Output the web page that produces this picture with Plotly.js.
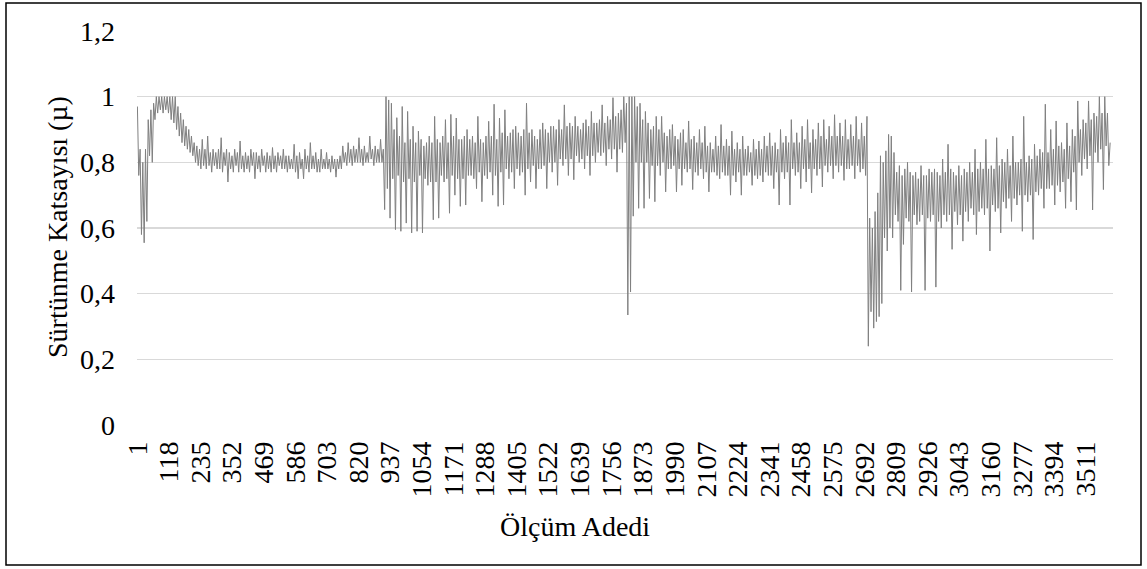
<!DOCTYPE html>
<html>
<head>
<meta charset="utf-8">
<script src="https://cdn.plot.ly/plotly-3.0.1.min.js"></script>
<style>
html,body{margin:0;padding:0;background:#fff;}
#chart{width:1147px;height:569px;}
</style>
</head>
<body>
<div id="chart"></div>
<script>
const adimOlcum = 5;
const mu = [
  0.97, 0.76, 0.84, 0.58, 0.80, 0.555, 0.84, 0.62, 0.93, 0.82, 0.96, 0.80, 0.98, 0.93, 1.0, 0.95, 1.0, 0.96, 1.0, 0.95,
  1.0, 0.96, 1.0, 0.95, 1.0, 0.93, 1.0, 0.92, 1.0, 0.90, 0.97, 0.88, 0.95, 0.86, 0.93, 0.85, 0.91, 0.84, 0.90, 0.83,
  0.88, 0.82, 0.86, 0.80, 0.85, 0.79, 0.84, 0.78, 0.87, 0.79, 0.84, 0.78, 0.88, 0.79, 0.83, 0.77, 0.84, 0.79, 0.83, 0.78,
  0.84, 0.78, 0.875, 0.77, 0.83, 0.79, 0.84, 0.74, 0.83, 0.78, 0.82, 0.77, 0.84, 0.79, 0.83, 0.77, 0.865, 0.78, 0.82, 0.77,
  0.83, 0.78, 0.82, 0.77, 0.84, 0.79, 0.83, 0.75, 0.83, 0.78, 0.82, 0.77, 0.84, 0.79, 0.82, 0.77, 0.83, 0.78, 0.82, 0.77,
  0.845, 0.78, 0.82, 0.77, 0.83, 0.79, 0.82, 0.78, 0.84, 0.78, 0.82, 0.77, 0.82, 0.78, 0.81, 0.78, 0.855, 0.77, 0.82, 0.75,
  0.83, 0.78, 0.81, 0.75, 0.84, 0.78, 0.82, 0.77, 0.86, 0.78, 0.82, 0.78, 0.83, 0.77, 0.81, 0.77, 0.84, 0.78, 0.81, 0.78,
  0.83, 0.78, 0.81, 0.77, 0.82, 0.78, 0.81, 0.755, 0.81, 0.78, 0.82, 0.78, 0.85, 0.80, 0.83, 0.79, 0.86, 0.80, 0.84, 0.79,
  0.85, 0.80, 0.84, 0.80, 0.875, 0.80, 0.84, 0.79, 0.85, 0.80, 0.83, 0.80, 0.88, 0.81, 0.84, 0.79, 0.85, 0.80, 0.84, 0.80,
  0.87, 0.80, 0.84, 0.656, 1.0, 0.72, 0.99, 0.63, 0.98, 0.75, 0.90, 0.595, 0.936, 0.76, 0.88, 0.59, 0.97, 0.74, 0.86, 0.615,
  0.955, 0.75, 0.87, 0.585, 0.91, 0.74, 0.86, 0.59, 0.895, 0.76, 0.87, 0.585, 0.85, 0.75, 0.86, 0.73, 0.88, 0.74, 0.86, 0.625,
  0.94, 0.74, 0.87, 0.63, 0.86, 0.76, 0.88, 0.74, 0.93, 0.75, 0.86, 0.645, 0.946, 0.76, 0.88, 0.70, 0.935, 0.75, 0.87, 0.666,
  0.87, 0.75, 0.88, 0.67, 0.90, 0.76, 0.87, 0.76, 0.88, 0.75, 0.86, 0.72, 0.94, 0.77, 0.87, 0.68, 0.86, 0.76, 0.88, 0.75,
  0.925, 0.77, 0.88, 0.70, 0.977, 0.76, 0.87, 0.666, 0.935, 0.77, 0.89, 0.67, 0.96, 0.78, 0.88, 0.75, 0.89, 0.77, 0.90, 0.72,
  0.91, 0.78, 0.89, 0.76, 0.88, 0.77, 0.90, 0.70, 0.98, 0.78, 0.89, 0.74, 0.90, 0.79, 0.88, 0.72, 0.87, 0.78, 0.90, 0.78,
  0.92, 0.79, 0.90, 0.72, 0.89, 0.80, 0.91, 0.77, 0.91, 0.80, 0.90, 0.73, 0.93, 0.81, 0.90, 0.79, 0.975, 0.81, 0.91, 0.76,
  0.92, 0.81, 0.91, 0.747, 0.94, 0.82, 0.91, 0.80, 0.90, 0.81, 0.92, 0.78, 0.93, 0.82, 0.91, 0.76, 0.955, 0.82, 0.92, 0.80,
  0.92, 0.83, 0.93, 0.82, 0.975, 0.83, 0.92, 0.79, 0.94, 0.84, 0.93, 0.81, 0.997, 0.84, 0.94, 0.77, 0.95, 0.84, 0.96, 0.83,
  1.0, 0.86, 0.98, 0.335, 1.0, 0.405, 1.0, 0.636, 1.0, 0.80, 0.97, 0.66, 0.98, 0.80, 0.93, 0.66, 0.955, 0.80, 0.92, 0.69,
  0.90, 0.79, 0.91, 0.68, 0.94, 0.79, 0.90, 0.76, 0.94, 0.80, 0.89, 0.71, 0.88, 0.78, 0.90, 0.78, 0.915, 0.79, 0.88, 0.71,
  0.87, 0.78, 0.89, 0.73, 0.90, 0.78, 0.86, 0.77, 0.926, 0.78, 0.87, 0.717, 0.88, 0.77, 0.86, 0.76, 0.90, 0.78, 0.86, 0.75,
  0.91, 0.77, 0.85, 0.71, 0.86, 0.77, 0.84, 0.77, 0.88, 0.76, 0.85, 0.75, 0.915, 0.77, 0.85, 0.76, 0.87, 0.76, 0.85, 0.70,
  0.895, 0.76, 0.84, 0.74, 0.86, 0.77, 0.84, 0.70, 0.88, 0.76, 0.84, 0.76, 0.85, 0.77, 0.83, 0.73, 0.87, 0.76, 0.84, 0.75,
  0.865, 0.76, 0.84, 0.74, 0.88, 0.77, 0.85, 0.76, 0.89, 0.76, 0.85, 0.72, 0.86, 0.77, 0.84, 0.67, 0.90, 0.77, 0.86, 0.75,
  0.88, 0.77, 0.86, 0.67, 0.93, 0.78, 0.86, 0.76, 0.89, 0.77, 0.86, 0.72, 0.91, 0.78, 0.87, 0.74, 0.93, 0.78, 0.86, 0.707,
  0.90, 0.78, 0.87, 0.76, 0.92, 0.78, 0.88, 0.725, 0.93, 0.79, 0.87, 0.77, 0.91, 0.79, 0.88, 0.75, 0.945, 0.79, 0.88, 0.77,
  0.92, 0.79, 0.88, 0.745, 0.93, 0.78, 0.87, 0.78, 0.915, 0.79, 0.88, 0.75, 0.94, 0.79, 0.87, 0.77, 0.92, 0.78, 0.88, 0.76,
  0.94, 0.24, 0.63, 0.345, 0.60, 0.295, 0.65, 0.315, 0.707, 0.33, 0.82, 0.37, 0.80, 0.57, 0.835, 0.53, 0.885, 0.60, 0.88, 0.57,
  0.83, 0.64, 0.77, 0.62, 0.79, 0.41, 0.76, 0.55, 0.78, 0.63, 0.80, 0.62, 0.77, 0.405, 0.76, 0.64, 0.77, 0.61, 0.75, 0.62,
  0.79, 0.64, 0.76, 0.41, 0.76, 0.63, 0.78, 0.62, 0.77, 0.64, 0.78, 0.42, 0.77, 0.62, 0.76, 0.60, 0.81, 0.64, 0.77, 0.62,
  0.855, 0.64, 0.78, 0.535, 0.77, 0.65, 0.76, 0.61, 0.79, 0.64, 0.76, 0.56, 0.78, 0.65, 0.77, 0.62, 0.80, 0.66, 0.77, 0.64,
  0.84, 0.58, 0.78, 0.65, 0.80, 0.66, 0.78, 0.64, 0.87, 0.66, 0.78, 0.53, 0.79, 0.67, 0.78, 0.65, 0.875, 0.66, 0.79, 0.585,
  0.81, 0.68, 0.80, 0.66, 0.84, 0.69, 0.79, 0.62, 0.88, 0.69, 0.80, 0.67, 0.80, 0.70, 0.81, 0.59, 0.94, 0.70, 0.80, 0.68,
  0.82, 0.70, 0.81, 0.565, 0.855, 0.71, 0.82, 0.70, 0.84, 0.72, 0.83, 0.66, 0.977, 0.72, 0.83, 0.72, 0.90, 0.73, 0.84, 0.67,
  0.926, 0.73, 0.85, 0.71, 0.86, 0.74, 0.84, 0.66, 0.92, 0.75, 0.85, 0.68, 0.90, 0.77, 0.88, 0.655, 0.987, 0.80, 0.90, 0.76,
  0.93, 0.81, 0.92, 0.78, 0.987, 0.82, 0.93, 0.655, 0.95, 0.83, 0.94, 0.80, 1.0, 0.84, 0.95, 0.717, 1.0, 0.85, 0.95, 0.79,
  0.86
];
const olcum = mu.map((_, k) => 1 + k * adimOlcum);

const xTickVals = [1,118,235,352,469,586,703,820,937,1054,1171,1288,1405,1522,1639,1756,1873,1990,2107,2224,2341,2458,2575,2692,2809,2926,3043,3160,3277,3394,3511];
const xTickText = xTickVals.map(String);
const yTickVals = [0,0.2,0.4,0.6,0.8,1,1.2];
const yTickText = ['0','0,2','0,4','0,6','0,8','1','1,2'];

const serif = 'Liberation Serif';
const fs = 28;

const L = 137, R = 1113, T = 31, B = 425;
const pw = R - L, ph = B - T;
function px2x(p){ return (p - L) / pw; }
function py2y(p){ return (B - p) / ph; }

Plotly.newPlot('chart', [{
  x: olcum,
  y: mu,
  type: 'scatter',
  mode: 'lines',
  line: {color: '#808080', width: 1},
  hoverinfo: 'skip'
}], {
  width: 1147, height: 569,
  margin: {l: L, r: 1147 - R, t: T, b: 569 - B},
  paper_bgcolor: '#ffffff',
  plot_bgcolor: '#ffffff',
  showlegend: false,
  xaxis: {
    range: [-0.5, 3611.5],
    tickmode: 'array', tickvals: xTickVals, ticktext: xTickText,
    tickangle: -90,
    showgrid: false, zeroline: false, showline: false, ticks: '',
    ticklabelstandoff: 10,
    tickfont: {family: serif, size: fs, color: '#000'},
    fixedrange: true
  },
  yaxis: {
    range: [0, 1.2],
    tickmode: 'array', tickvals: yTickVals, ticktext: yTickText,
    showgrid: true, gridcolor: '#d9d9d9', gridwidth: 1.3,
    zeroline: false, showline: false, ticks: '',
    ticklabelstandoff: 21,
    tickfont: {family: serif, size: fs, color: '#000'},
    fixedrange: true
  },
  annotations: [
    {text: 'Ölçüm Adedi', xref: 'paper', yref: 'paper', x: px2x(575), y: py2y(526),
     xanchor: 'center', yanchor: 'middle', showarrow: false,
     font: {family: serif, size: fs, color: '#000'}},
    {text: 'Sürtünme Katsayısı (µ)', xref: 'paper', yref: 'paper', x: px2x(57), y: py2y(227),
     xanchor: 'center', yanchor: 'middle', textangle: -90, showarrow: false,
     font: {family: serif, size: fs, color: '#000'}}
  ],
  shapes: [
    {type: 'rect', xref: 'paper', yref: 'paper', layer: 'above',
     x0: px2x(6), x1: px2x(1141), y0: py2y(565), y1: py2y(3),
     line: {color: '#000', width: 1.5}}
  ]
}, {displayModeBar: false, staticPlot: true});
</script>
</body>
</html>
